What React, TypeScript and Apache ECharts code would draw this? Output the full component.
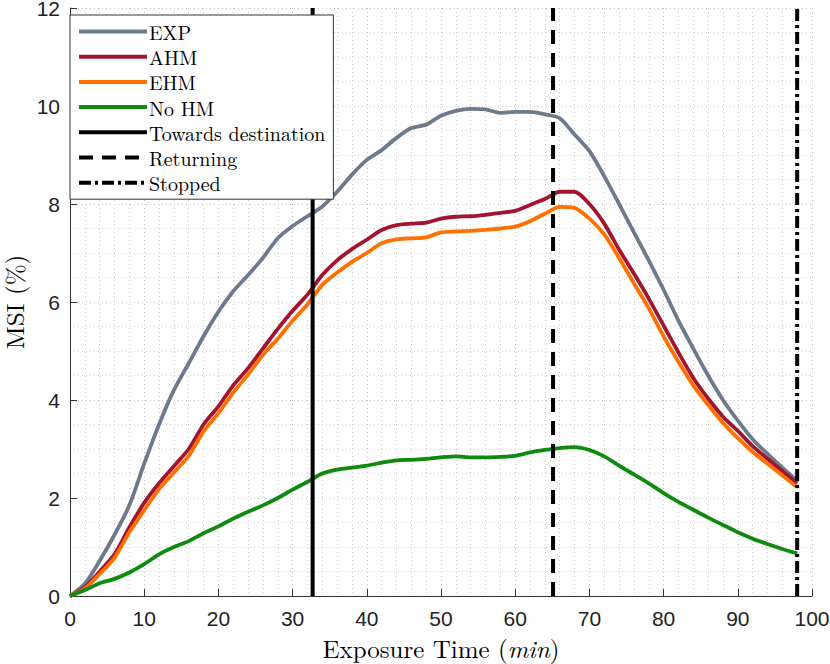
import React, { useEffect, useRef } from "react";
import * as echarts from "echarts";

const timeMin = [0, 2, 4, 6, 8, 10, 12, 14, 16, 18, 20, 22, 24, 26, 28, 30, 32, 34, 36, 38, 40, 42, 44, 46, 48, 50, 52, 54, 56, 58, 60, 62, 64, 66, 68, 70, 72, 74, 76, 78, 80, 82, 84, 86, 88, 90, 92, 94, 96, 98];

const expMsi = [0, 0.25, 0.72, 1.25, 1.85, 2.7, 3.5, 4.2, 4.75, 5.3, 5.8, 6.22, 6.55, 6.9, 7.3, 7.55, 7.75, 7.95, 8.25, 8.6, 8.9, 9.1, 9.35, 9.55, 9.62, 9.8, 9.9, 9.94, 9.93, 9.86, 9.88, 9.88, 9.83, 9.75, 9.42, 9.08, 8.57, 8.0, 7.42, 6.85, 6.25, 5.62, 5.05, 4.5, 4.0, 3.58, 3.2, 2.9, 2.62, 2.35];

const ahmMsi = [0, 0.18, 0.5, 0.85, 1.4, 1.9, 2.3, 2.65, 3.0, 3.5, 3.87, 4.3, 4.65, 5.05, 5.45, 5.82, 6.15, 6.55, 6.85, 7.08, 7.27, 7.47, 7.57, 7.6, 7.62, 7.7, 7.74, 7.75, 7.78, 7.82, 7.86, 7.98, 8.1, 8.25, 8.25, 8.0, 7.6, 7.07, 6.58, 6.07, 5.52, 4.97, 4.45, 4.03, 3.66, 3.37, 3.06, 2.8, 2.55, 2.3];

const ehmMsi = [0, 0.15, 0.45, 0.78, 1.3, 1.75, 2.18, 2.52, 2.86, 3.36, 3.73, 4.15, 4.52, 4.92, 5.25, 5.62, 5.95, 6.35, 6.6, 6.82, 7.0, 7.2, 7.28, 7.3, 7.32, 7.42, 7.44, 7.45, 7.47, 7.5, 7.54, 7.65, 7.8, 7.94, 7.92, 7.7, 7.38, 6.9, 6.38, 5.87, 5.3, 4.78, 4.3, 3.9, 3.53, 3.22, 2.94, 2.7, 2.46, 2.22];

const noHmMsi = [0, 0.12, 0.26, 0.35, 0.48, 0.65, 0.85, 1.0, 1.12, 1.28, 1.42, 1.58, 1.72, 1.85, 2.0, 2.17, 2.33, 2.5, 2.58, 2.62, 2.66, 2.72, 2.77, 2.78, 2.8, 2.83, 2.85, 2.83, 2.83, 2.84, 2.86, 2.93, 2.98, 3.02, 3.04, 2.98, 2.85, 2.66, 2.48, 2.3, 2.1, 1.92, 1.76, 1.6, 1.45, 1.3, 1.17, 1.06, 0.96, 0.87];

const phaseNames = ["Towards destination", "Returning", "Stopped"];
const phaseTimes = [32.7, 65.1, 98.0];
const yRange = [0, 12];

const xTicks = [0, 10, 20, 30, 40, 50, 60, 70, 80, 90, 100];

const curveNames = ["EXP", "AHM", "EHM", "No HM"];
const curveColors = ["#6c7a8b", "#a2142f", "#ff7000", "#0e8a0e"];
const curveValues = [expMsi, ahmMsi, ehmMsi, noHmMsi];
const phaseDash: any[] = ["solid", [14, 9], [12, 4, 3, 4]];

const SERIF = "'Latin Modern Roman', 'Liberation Serif', 'DejaVu Serif', serif";
const SANS = "'Liberation Sans', Arial, sans-serif";

export default function App() {
  const ref = useRef<HTMLDivElement>(null);
  useEffect(() => {
    if (!ref.current) return;
    const chart = echarts.init(ref.current, null, { renderer: "svg" });
    const curveSeries = curveNames.map((name, i) => ({
      name,
      type: "line",
      data: timeMin.map((t, k) => [t, curveValues[i][k]]),
      smooth: 0.25,
      symbol: "none",
      lineStyle: { color: curveColors[i], width: 3.8 },
      itemStyle: { color: curveColors[i] },
      z: 2,
    }));
    const phaseSeries = phaseNames.map((name, i) => ({
      name,
      type: "line",
      data: [
        [phaseTimes[i], yRange[0]],
        [phaseTimes[i], yRange[1]],
      ],
      symbol: "none",
      lineStyle: { color: "#000", width: 4, type: phaseDash[i], cap: "butt" },
      itemStyle: { color: "#000" },
      z: 3,
    }));
    const gridLine = { show: true, lineStyle: { color: "#c4c4c4", width: 1, type: [1, 3] } };
    chart.setOption({
      animation: false,
      backgroundColor: "#fff",
      grid: { left: 70, right: 18, top: 8, bottom: 68, containLabel: false, outerBoundsMode: "none" },
      legend: {
        orient: "vertical",
        left: 70,
        top: 15,
        itemWidth: 68,
        itemHeight: 21,
        itemGap: 4.2,
        padding: [6, 8, 6, 7],
        backgroundColor: "#fff",
        borderColor: "#333",
        borderWidth: 1,
        borderRadius: 0,
        selectedMode: false,
        itemStyle: { color: "rgba(0,0,0,0)", borderColor: "rgba(0,0,0,0)", borderWidth: 0 },
        lineStyle: { width: 4 },
        textStyle: { fontFamily: SERIF, fontSize: 20, color: "#000", padding: [0, 0, 0, -3], lineHeight: 21 },
        data: [...curveNames, ...phaseNames],
        z: 10,
      },
      xAxis: {
        type: "value",
        min: xTicks[0],
        max: xTicks[xTicks.length - 1],
        interval: 10,
        name: "Exposure Time ({it|min})",
        nameLocation: "middle",
        nameGap: 39,
        nameTextStyle: {
          fontFamily: SERIF,
          fontSize: 25,
          lineHeight: 25,
          color: "#000",
          rich: { it: { fontFamily: SERIF, fontSize: 25, lineHeight: 25, fontStyle: "italic", color: "#000" } },
        },
        axisLine: { show: true, onZero: false, lineStyle: { color: "#333", width: 1 } },
        axisTick: { show: true, inside: true, length: 7, lineStyle: { color: "#333" } },
        axisLabel: { fontFamily: SANS, fontSize: 21, color: "#222", margin: 12 },
        splitLine: gridLine,
        minorTick: { show: false, splitNumber: 5 },
        minorSplitLine: { show: true, lineStyle: { color: "#cfcfcf", width: 1, type: [1, 3] } },
      },
      yAxis: {
        type: "value",
        min: yRange[0],
        max: yRange[1],
        interval: 2,
        name: "MSI (%)",
        nameLocation: "middle",
        nameGap: 43,
        nameRotate: 90,
        nameTextStyle: { fontFamily: SERIF, fontSize: 25, lineHeight: 25, color: "#000" },
        axisLine: { show: true, onZero: false, lineStyle: { color: "#333", width: 1 } },
        axisTick: { show: true, inside: true, length: 7, lineStyle: { color: "#333" } },
        axisLabel: { fontFamily: SANS, fontSize: 21, lineHeight: 16, color: "#222", margin: 10 },
        splitLine: gridLine,
        minorTick: { show: false, splitNumber: 4 },
        minorSplitLine: { show: true, lineStyle: { color: "#cfcfcf", width: 1, type: [1, 3] } },
      },
      series: [...curveSeries, ...phaseSeries],
    });
    return () => chart.dispose();
  }, []);
  return (
    <div
      ref={ref}
      style={{ position: "absolute", left: 0, top: 0, width: 830, height: 664 }}
    />
  );
}
